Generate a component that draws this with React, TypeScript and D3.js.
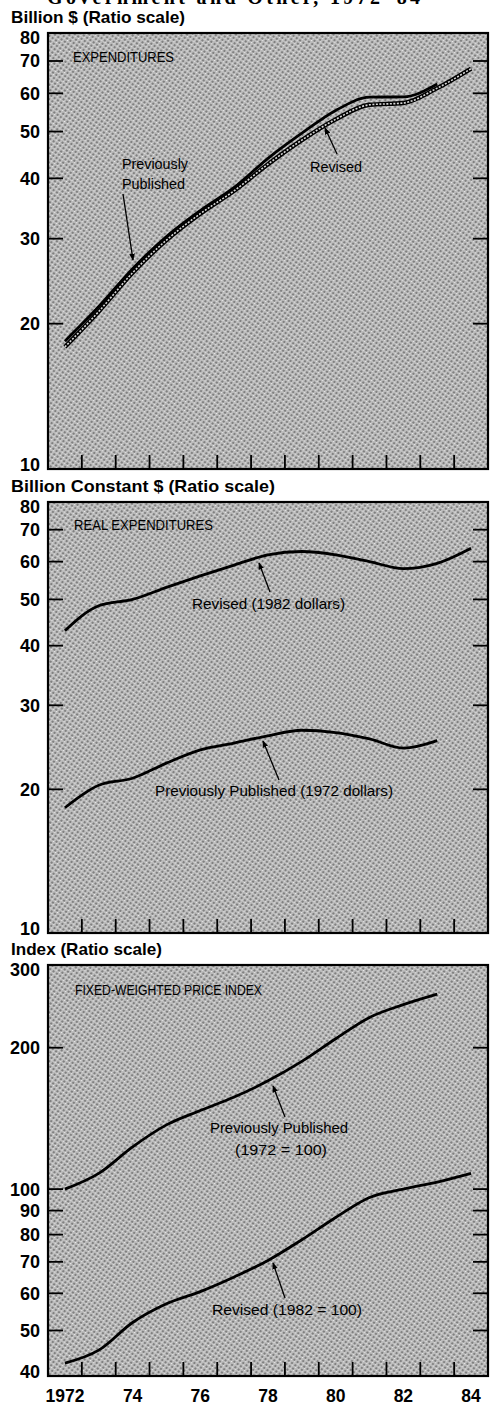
import React from "react";
import * as d3 from "d3";

// ---------- DATA ----------
const years = [1972, 1973, 1974, 1975, 1976, 1977, 1978, 1979, 1980, 1981, 1982, 1983, 1984];

// Panel 1: Expenditures, billion $
const expPrev = [18.4, 21.7, 26.0, 30.3, 34.3, 38.3, 44.0, 49.6, 55.3, 58.9, 59.0, 62.7];
const expRev = [17.9, 21.2, 25.5, 29.8, 33.8, 37.7, 42.8, 48.0, 53.0, 56.8, 57.3, 61.5, 67.5];

// Panel 2: Real expenditures, billion constant $
const realRev = [43.0, 48.5, 50.0, 53.0, 56.0, 59.0, 62.0, 63.0, 62.0, 60.0, 58.0, 59.5, 64.0];
const realPrev = [18.3, 20.4, 21.1, 22.7, 24.2, 25.0, 25.9, 26.6, 26.3, 25.5, 24.4, 25.3];

// Panel 3: Fixed-weighted price index
const pricePrev = [100, 108, 123, 137, 147, 157, 170, 187, 209, 232, 247, 260];
const priceRev = [42.6, 45.4, 52, 57, 60.5, 65, 70.5, 78, 87, 96, 100, 103.5, 108];

const ticks1 = [80, 70, 60, 50, 40, 30, 20, 10];
const ticks2 = [80, 70, 60, 50, 40, 30, 20, 10];
const ticks3 = [300, 200, 100, 90, 80, 70, 60, 50, 40];
const xLabels = ["1972", "74", "76", "78", "80", "82", "84"];
const xLabelYears = [1972, 1974, 1976, 1978, 1980, 1982, 1984];

// ---------- LAYOUT ----------
const W = 490;
const H = 1406;
const X0 = 48;
const X1 = 488;
const x = d3.scaleLinear().domain([1972, 1985]).range([X0, X1]);

const sans = "'Liberation Sans', Arial, Helvetica, sans-serif";
const narrow = "'Liberation Sans Narrow', 'Arial Narrow', 'Liberation Sans', Arial, sans-serif";

type Panel = {
  top: number;
  bottom: number;
  domain: [number, number];
  ticks: number[];
  title: string;
  titleY: number;
  titleW: number;
};

const panels: Panel[] = [
  { top: 33, bottom: 469, domain: [10, 80], ticks: ticks1, title: "Billion $ (Ratio scale)", titleY: 23, titleW: 174 },
  { top: 502, bottom: 933, domain: [10, 80], ticks: ticks2, title: "Billion Constant $ (Ratio scale)", titleY: 492, titleW: 264 },
  { top: 965, bottom: 1376, domain: [40, 300], ticks: ticks3, title: "Index (Ratio scale)", titleY: 955, titleW: 151 },
];

const yScale = (p: Panel) => d3.scaleLog().domain(p.domain).range([p.bottom, p.top]);

function linePath(p: Panel, vals: number[]) {
  const y = yScale(p);
  const gen = d3
    .line<number>()
    .x((_, i) => x(years[i] + 0.5))
    .y((v) => y(v))
    .curve(d3.curveMonotoneX);
  return gen(vals) || "";
}

function NarrowText(props: { x: number; y: number; w: number; children: string; size?: number }) {
  return (
    <text
      x={props.x}
      y={props.y}
      fontFamily={narrow}
      fontSize={props.size ?? 14.5}
      textLength={props.w}
      lengthAdjust="spacingAndGlyphs"
      fill="#000"
    >
      {props.children}
    </text>
  );
}

function Arrow(props: { x1: number; y1: number; x2: number; y2: number }) {
  return (
    <line
      x1={props.x1}
      y1={props.y1}
      x2={props.x2}
      y2={props.y2}
      stroke="#000"
      strokeWidth={1.3}
      markerEnd="url(#arrowhead)"
    />
  );
}

function PanelFrame({ p }: { p: Panel }) {
  const y = yScale(p);
  const boundaryYears = d3.range(1973, 1985);
  return (
    <g>
      <rect x={X0} y={p.top} width={X1 - X0} height={p.bottom - p.top} fill="url(#halftone)" />
      {p.ticks.map((t, i) => {
        const yy = y(t);
        const isEnd = i === 0 || i === p.ticks.length - 1;
        const labelY = i === 0 ? yy + 5 : i === p.ticks.length - 1 ? yy - 4 : yy;
        return (
          <g key={"t" + t}>
            {!isEnd && (
              <>
                <line x1={X0} x2={X0 + 15} y1={yy} y2={yy} stroke="#000" strokeWidth={1.8} />
                <line x1={X1 - 15} x2={X1} y1={yy} y2={yy} stroke="#000" strokeWidth={1.8} />
              </>
            )}
            <text
              x={40}
              y={labelY}
              dy="0.36em"
              textAnchor="end"
              fontFamily={sans}
              fontWeight={700}
              fontSize={18}
              fill="#000"
            >
              {t}
            </text>
          </g>
        );
      })}
      {boundaryYears.map((yr) => (
        <line
          key={"x" + yr}
          x1={x(yr)}
          x2={x(yr)}
          y1={p.bottom}
          y2={p.bottom - 14}
          stroke="#000"
          strokeWidth={1.8}
        />
      ))}
      <rect
        x={X0}
        y={p.top}
        width={X1 - X0}
        height={p.bottom - p.top}
        fill="none"
        stroke="#000"
        strokeWidth={2.2}
      />
      <text
        x={11}
        y={p.titleY}
        fontFamily={sans}
        fontWeight={700}
        fontSize={17}
        textLength={p.titleW}
        lengthAdjust="spacingAndGlyphs"
        fill="#000"
      >
        {p.title}
      </text>
    </g>
  );
}

export default function App() {
  const [p1, p2, p3] = panels;
  return (
    <svg
      width={W}
      height={H}
      viewBox={`0 0 ${W} ${H}`}
      style={{ position: "absolute", left: 0, top: 0, background: "#fff" }}
    >
      <defs>
        <pattern id="halftone" width="4" height="4" patternUnits="userSpaceOnUse" patternTransform="rotate(35)">
          <rect width="4" height="4" fill="#bdbdbd" />
          <rect x="0" y="0" width="2" height="2" fill="#808080" />
          <rect x="2" y="2" width="1" height="1" fill="#ebebeb" />
        </pattern>
        <marker
          id="arrowhead"
          viewBox="0 0 10 10"
          refX="9"
          refY="5"
          markerWidth="7"
          markerHeight="7"
          markerUnits="userSpaceOnUse"
          orient="auto"
        >
          <path d="M0,1 L10,5 L0,9 Z" fill="#000" />
        </marker>
      </defs>

      <text
        x={47}
        y={4}
        fontFamily="'Liberation Serif', 'Times New Roman', serif"
        fontWeight={700}
        fontSize={20}
        textLength={373}
        lengthAdjust="spacing"
        fill="#000"
      >
        Government and Other, 1972–84
      </text>

      {panels.map((p, i) => (
        <PanelFrame key={i} p={p} />
      ))}

      {/* Panel 1 */}
      <path d={linePath(p1, expRev)} fill="none" stroke="#000" strokeWidth={4.4} />
      <path d={linePath(p1, expRev)} fill="none" stroke="#d8d8d8" strokeWidth={1.6} strokeDasharray="2 1.5" />
      <path d={linePath(p1, expPrev)} fill="none" stroke="#000" strokeWidth={2.8} />

      <NarrowText x={73} y={62} w={101}>EXPENDITURES</NarrowText>
      <NarrowText x={122} y={169} w={66}>Previously</NarrowText>
      <NarrowText x={122} y={189} w={63}>Published</NarrowText>
      <Arrow x1={123} y1={194} x2={133} y2={260} />
      <NarrowText x={310} y={172} w={52}>Revised</NarrowText>
      <Arrow x1={337} y1={154} x2={325} y2={128} />

      {/* Panel 2 */}
      <path d={linePath(p2, realRev)} fill="none" stroke="#000" strokeWidth={2.8} />
      <path d={linePath(p2, realPrev)} fill="none" stroke="#000" strokeWidth={2.8} />
      <NarrowText x={74} y={530} w={139}>REAL EXPENDITURES</NarrowText>
      <NarrowText x={192} y={609} w={153}>Revised (1982 dollars)</NarrowText>
      <Arrow x1={270} y1={592} x2={259} y2={563} />
      <NarrowText x={155} y={796} w={238}>Previously Published (1972 dollars)</NarrowText>
      <Arrow x1={279} y1={780} x2={263} y2={741} />

      {/* Panel 3 */}
      <path d={linePath(p3, pricePrev)} fill="none" stroke="#000" strokeWidth={2.8} />
      <path d={linePath(p3, priceRev)} fill="none" stroke="#000" strokeWidth={2.8} />
      <NarrowText x={75} y={995} w={187}>FIXED-WEIGHTED PRICE INDEX</NarrowText>
      <NarrowText x={210} y={1133} w={138}>Previously Published</NarrowText>
      <NarrowText x={235} y={1155} w={92}>(1972 = 100)</NarrowText>
      <Arrow x1={285} y1={1117} x2={273} y2={1086} />
      <NarrowText x={212} y={1315} w={150}>Revised (1982 = 100)</NarrowText>
      <Arrow x1={285} y1={1298} x2={273} y2={1263} />

      {xLabels.map((lab, i) => (
        <text
          key={lab}
          x={x(xLabelYears[i] + 0.5)}
          y={1402}
          textAnchor="middle"
          fontFamily={sans}
          fontWeight={700}
          fontSize={17.5}
          fill="#000"
        >
          {lab}
        </text>
      ))}
    </svg>
  );
}
